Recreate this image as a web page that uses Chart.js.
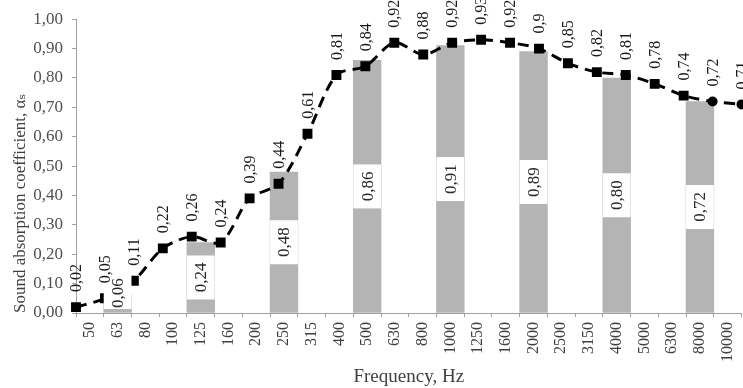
<!DOCTYPE html>
<html>
<head>
<meta charset="utf-8">
<script src="https://cdn.jsdelivr.net/npm/chart.js@4.4.1/dist/chart.umd.min.js"></script>
<style>
  html, body { margin: 0; padding: 0; background: #fff; overflow: hidden; }
  #wrap { position: relative; width: 752px; height: 388px; }
</style>
</head>
<body>
<div id="wrap"><canvas id="c" width="752" height="388"></canvas></div>
<script>
// ---- data ----
const categories = ['50','63','80','100','125','160','200','250','315','400','500','630','800','1000','1250','1600','2000','2500','3150','4000','5000','6300','8000','10000'];
const octaveValues = [null,0.06,null,null,0.24,null,null,0.48,null,null,0.86,null,null,0.91,null,null,0.89,null,null,0.80,null,null,0.72,null];
const thirdOctaveValues = [0.02,0.05,0.11,0.22,0.26,0.24,0.39,0.44,0.61,0.81,0.84,0.92,0.88,0.92,0.93,0.92,0.90,0.85,0.82,0.81,0.78,0.74,0.72,0.71];
const yTicks = [0,0.1,0.2,0.3,0.4,0.5,0.6,0.7,0.8,0.9,1.0];

const SERIF = '"Liberation Serif", "DejaVu Serif", serif';
const comma = s => s.replace('.', ',');

const labelPlugin = {
  id: 'labels',
  afterDatasetsDraw(chart) {
    const ctx = chart.ctx;
    const y0 = chart.scales.y.getPixelForValue(0);
    // bar labels
    const barMeta = chart.getDatasetMeta(1);
    barMeta.data.forEach((el, i) => {
      const v = octaveValues[i];
      if (v == null) return;
      const w = el.width;
      let yc = (el.y + el.base) / 2;
      yc = Math.min(yc, y0 - 20);
      const top = yc - 22;
      const bot = Math.min(yc + 22, y0 - 4);
      ctx.save();
      ctx.fillStyle = '#ffffff';
      ctx.fillRect(el.x - w / 2, top, w, bot - top);
      ctx.translate(el.x + 1, yc);
      ctx.rotate(-Math.PI / 2);
      ctx.fillStyle = '#2a2a2a';
      ctx.font = '17px ' + SERIF;
      ctx.textAlign = 'center';
      ctx.textBaseline = 'middle';
      ctx.fillText(comma(v.toFixed(2)), 0, 0);
      ctx.restore();
    });
    // line labels
    const lineMeta = chart.getDatasetMeta(0);
    lineMeta.data.forEach((pt, i) => {
      const v = thirdOctaveValues[i];
      if (v == null) return;
      ctx.save();
      ctx.translate(pt.x + 1, pt.y - 15);
      ctx.rotate(-Math.PI / 2);
      ctx.fillStyle = '#1a1a1a';
      ctx.font = '16px ' + SERIF;
      ctx.textAlign = 'left';
      ctx.textBaseline = 'middle';
      ctx.fillText(comma(String(v)), 0, 0);
      ctx.restore();
    });
  }
};

new Chart(document.getElementById('c'), {
  type: 'bar',
  data: {
    labels: categories,
    datasets: [
      {
        type: 'line',
        data: thirdOctaveValues,
        xAxisID: 'x2',
        yAxisID: 'y',
        borderColor: '#000',
        borderWidth: 3,
        borderDash: [11, 7],
        tension: 0.3,
        pointStyle: thirdOctaveValues.map((v, i) => i >= 22 ? 'circle' : 'rect'),
        pointRadius: thirdOctaveValues.map((v, i) => i >= 22 ? 5 : 7),
        pointBackgroundColor: '#000',
        pointBorderColor: '#000',
        pointBorderWidth: 0,
        order: 0
      },
      {
        type: 'bar',
        data: octaveValues,
        xAxisID: 'x',
        yAxisID: 'y',
        backgroundColor: '#b4b4b4',
        borderWidth: 0,
        grouped: false,
        barPercentage: 1.0,
        categoryPercentage: 1.0,
        order: 1
      }
    ]
  },
  options: {
    responsive: false,
    animation: false,
    devicePixelRatio: 1,
    layout: { padding: { top: 17, right: 2, bottom: 0, left: 4 } },
    plugins: { legend: { display: false }, tooltip: { enabled: false } },
    scales: {
      x: {
        type: 'category',
        offset: true,
        grid: { offset: true, drawOnChartArea: false, drawTicks: true, tickLength: 4, color: '#a0a0a0' },
        border: { display: true, color: '#a0a0a0', width: 1 },
        ticks: {
          autoSkip: false, maxRotation: 90, minRotation: 90, padding: 5,
          color: '#404040', font: { family: SERIF, size: 16 }
        },
        title: {
          display: true, text: 'Frequency, Hz', color: '#404040',
          font: { family: SERIF, size: 19 }, padding: { top: 4, bottom: 0 }
        },
        afterFit(scale) { scale.height = 75; }
      },
      x2: {
        type: 'category',
        display: false,
        offset: false,
        labels: categories
      },
      y: {
        min: 0, max: 1,
        afterBuildTicks(scale) { scale.ticks = yTicks.map(v => ({ value: v })); },
        grid: { drawOnChartArea: false, drawTicks: true, tickLength: 4, color: '#a0a0a0' },
        border: { display: true, color: '#a0a0a0', width: 1 },
        ticks: {
          padding: 9, color: '#505050', font: { family: SERIF, size: 17 },
          callback: v => comma(Number(v).toFixed(2))
        },
        title: {
          display: true, text: 'Sound absorption coefficient, \u03b1\u209b', color: '#404040',
          align: 'start',
          font: { family: SERIF, size: 17 }, padding: { top: 6, bottom: 0 }
        },
        afterFit(scale) { scale.width = 72; }
      }
    }
  },
  plugins: [labelPlugin]
});
</script>
</body>
</html>
